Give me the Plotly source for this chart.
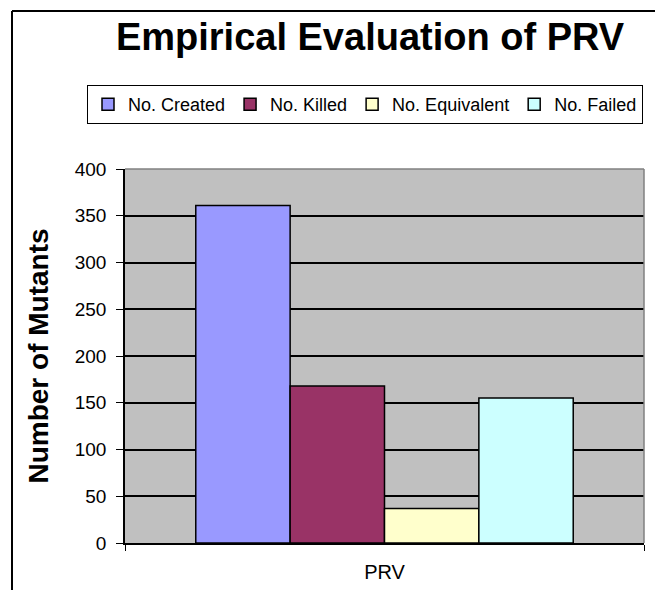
import plotly.graph_objects as go

categories = ["PRV"]
series_names = ["No. Created", "No. Killed", "No. Equivalent", "No. Failed"]
series_values = [361, 168, 37, 155]
series_colors = ["#9999FF", "#993366", "#FFFFCC", "#CCFFFF"]
y_ticks = [0, 50, 100, 150, 200, 250, 300, 350, 400]

FONT = "Liberation Sans, Arial, sans-serif"

fig = go.Figure()
for name, val, col in zip(series_names, series_values, series_colors):
    fig.add_trace(go.Bar(
        x=categories, y=[val], name=name,
        marker=dict(color=col, line=dict(color="black", width=1.5)),
    ))

# page body has an 8px margin, so work in figure coords = screen - 8
OFF = 8
W, H = 663 - OFF, 590 - OFF
L, T = 125 - OFF, 169 - OFF
R = W - (644 - OFF)
B = H - (543 - OFF)
pw, ph = W - L - R, H - T - B

def px_x(sx):
    return (sx - OFF - L) / pw

def px_y(sy):
    return (H - B - (sy - OFF)) / ph

fig.update_layout(
    width=W, height=H,
    margin=dict(l=L, r=R, t=T, b=B, autoexpand=False),
    paper_bgcolor="white",
    plot_bgcolor="#C0C0C0",
    barmode="group", bargap=0.2727, bargroupgap=0,
    font=dict(family=FONT, color="black"),
    title=dict(
        text="<b>Empirical Evaluation of PRV</b>",
        font=dict(family=FONT, size=38, color="black"),
        xref="container", x=(370 - OFF) / W, xanchor="center",
        yref="container", y=1 - (37 - OFF) / H, yanchor="middle",
    ),
    showlegend=True,
    legend=dict(
        orientation="h",
        xref="paper", yref="paper",
        x=px_x(87), xanchor="left",
        y=px_y(85), yanchor="top",
        bordercolor="black", borderwidth=1,
        bgcolor="white",
        font=dict(family=FONT, size=18, color="black"),
        itemwidth=30,
        traceorder="normal",
    ),
    xaxis=dict(
        showgrid=False,
        showline=True, linecolor="black", linewidth=1.5,
        ticks="outside", tickson="boundaries", ticklen=6, tickcolor="black",
        tickfont=dict(family=FONT, size=20, color="black"),
        ticklabelstandoff=10,
    ),
    yaxis=dict(
        range=[0, 400], tickvals=y_ticks,
        showgrid=True, gridcolor="black", gridwidth=1.5,
        showline=True, linecolor="black", linewidth=1.5,
        ticks="outside", ticklen=7, tickcolor="black",
        tickfont=dict(family=FONT, size=19, color="black"),
        ticklabelstandoff=6,
        zeroline=False,
        title=dict(text="<b>Number of Mutants</b>",
                   font=dict(family=FONT, size=28, color="black"),
                   standoff=18),
    ),
    shapes=[
        dict(type="line", xref="paper", yref="paper", x0=1, x1=1, y0=0, y1=1,
             line=dict(color="#808080", width=1.5)),
        dict(type="line", xref="paper", yref="paper", x0=0, x1=1, y0=1, y1=1,
             line=dict(color="#808080", width=1.5)),
        dict(type="line", xref="paper", yref="paper",
             x0=px_x(12), x1=px_x(12), y0=-0.3, y1=px_y(11),
             line=dict(color="black", width=2)),
        dict(type="line", xref="paper", yref="paper",
             x0=px_x(12), x1=1.2, y0=px_y(11), y1=px_y(11),
             line=dict(color="black", width=2)),
    ],
)

fig.write_html("out.html")
